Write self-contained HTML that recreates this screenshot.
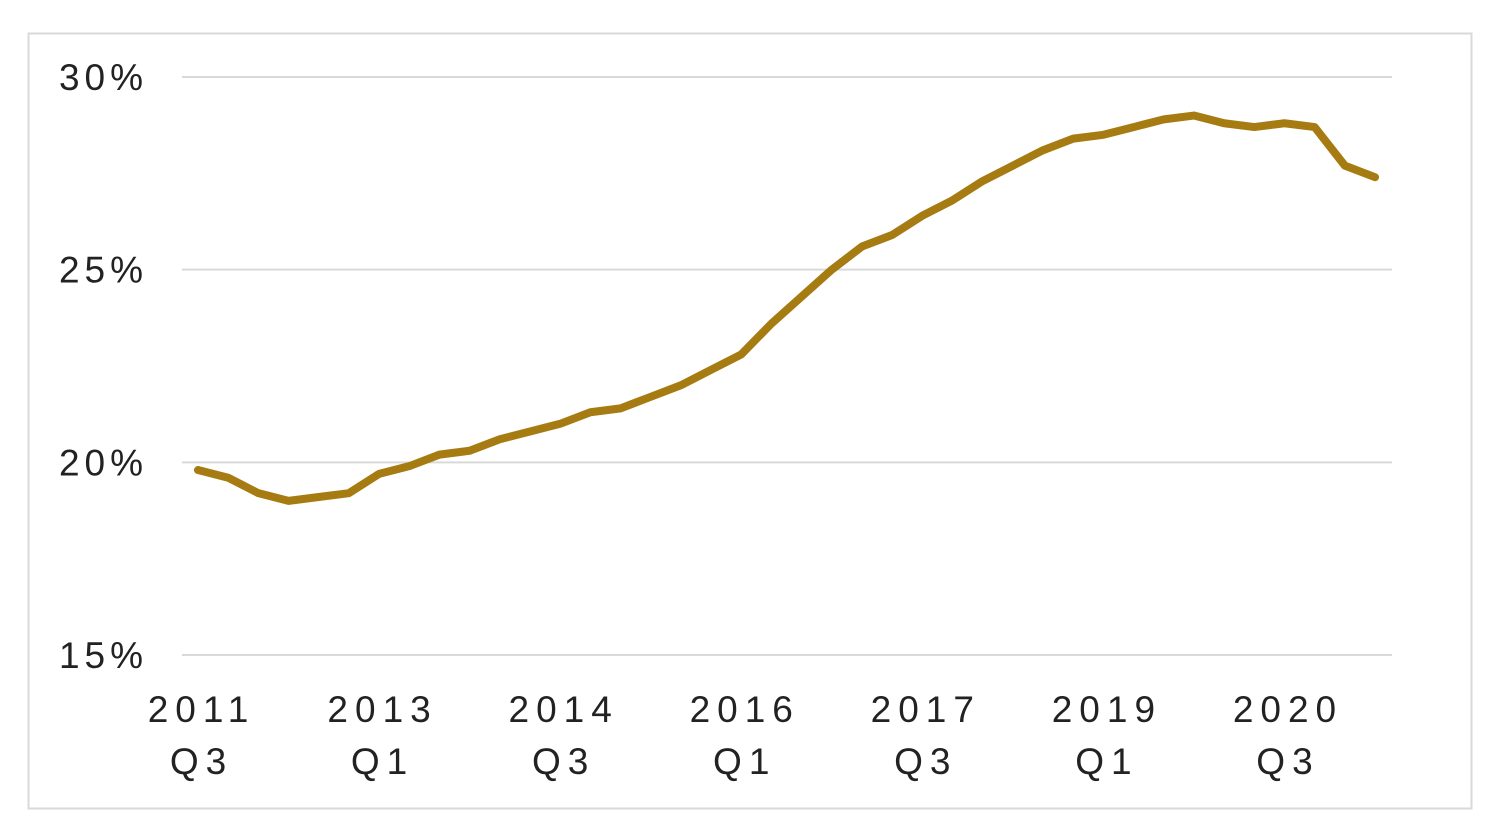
<!DOCTYPE html>
<html><head><meta charset="utf-8"><style>
html,body{margin:0;padding:0;background:#fff;width:1500px;height:837px;overflow:hidden}
svg text{font-family:"Liberation Sans",sans-serif;fill:#222;font-size:37px}
</style></head><body>
<svg id="chart" width="1500" height="837" viewBox="0 0 1500 837">
<rect x="28.5" y="33.5" width="1443" height="775" fill="#fff" stroke="#d9d9d9" stroke-width="2"/>
<g id="grid"></g><g id="yt"></g><g id="xt"></g><g id="series"></g>
</svg>
<script>
const values=[19.8,19.6,19.2,19.0,19.1,19.2,19.7,19.9,20.2,20.3,20.6,20.8,21.0,21.3,21.4,21.7,22.0,22.4,22.8,23.6,24.3,25.0,25.6,25.9,26.4,26.8,27.3,27.7,28.1,28.4,28.5,28.7,28.9,29.0,28.8,28.7,28.8,28.7,27.7,27.4];
const yTicks=[15,20,25,30];
const xLabelIdx=[0,6,12,18,24,30,36];
const xLabelYear=["2011","2013","2014","2016","2017","2019","2020"];
const xLabelQ=["Q3","Q1","Q3","Q1","Q3","Q1","Q3"];
const NS="http://www.w3.org/2000/svg";
const X=i=>198+i*30.18;
const Y=v=>655-(v-15)*(578/15);
const grid=document.getElementById('grid'),yt=document.getElementById('yt'),xt=document.getElementById('xt'),ser=document.getElementById('series');
yTicks.forEach(t=>{
 const l=document.createElementNS(NS,'line');
 
 
 l.setAttribute('x1',182);l.setAttribute('x2',1392);l.setAttribute('y1',Y(t));l.setAttribute('y2',Y(t));
 l.setAttribute('stroke','#d9d9d9');l.setAttribute('stroke-width',2);grid.appendChild(l);
 const tx=document.createElementNS(NS,'text');
 
 
 tx.setAttribute('x',148);tx.setAttribute('y',Y(t)+13);tx.setAttribute('text-anchor','end');
 tx.setAttribute('letter-spacing','5');
 tx.textContent=t+'%';yt.appendChild(tx);
});
xLabelIdx.forEach((idx,k)=>{
 const t1=document.createElementNS(NS,'text');
 
 
 t1.setAttribute('x',X(idx)+3.5);t1.setAttribute('y',722);t1.setAttribute('text-anchor','middle');
 t1.setAttribute('letter-spacing','7');
 t1.textContent=xLabelYear[k];xt.appendChild(t1);
 const t2=document.createElementNS(NS,'text');
 
 
 t2.setAttribute('x',X(idx)+3.5);t2.setAttribute('y',774);t2.setAttribute('text-anchor','middle');
 t2.setAttribute('letter-spacing','7');
 t2.textContent=xLabelQ[k];xt.appendChild(t2);
});
const p=document.createElementNS(NS,'polyline');


p.setAttribute('points',values.map((v,i)=>X(i)+','+Y(v)).join(' '));
p.setAttribute('fill','none');p.setAttribute('stroke','#A67C12');p.setAttribute('stroke-width',8);
p.setAttribute('stroke-linejoin','round');p.setAttribute('stroke-linecap','round');
ser.appendChild(p);
</script>
</body></html>
